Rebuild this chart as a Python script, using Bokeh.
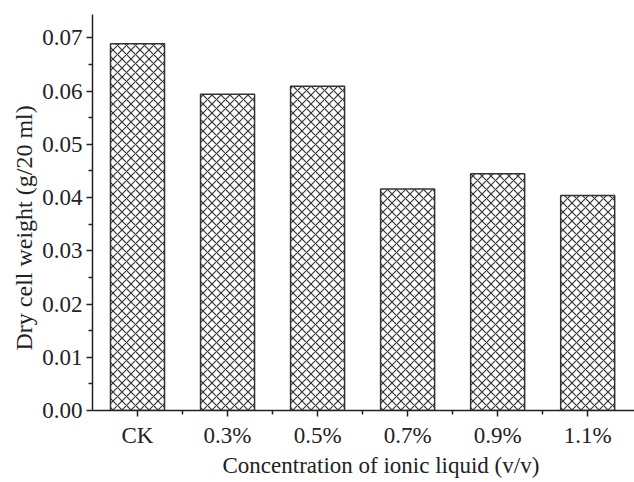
from bokeh.plotting import figure
from bokeh.models import ColumnDataSource, FixedTicker, Range1d, Title
from bokeh.embed import file_html
from bokeh.resources import INLINE

categories = ["CK", "0.3%", "0.5%", "0.7%", "0.9%", "1.1%"]
weights = [0.0689, 0.0594, 0.0609, 0.0416, 0.0445, 0.0404]
y_ticks = [0.00, 0.01, 0.02, 0.03, 0.04, 0.05, 0.06, 0.07]
x_title = "Concentration of ionic liquid (v/v)"
y_title = "Dry cell weight (g/20 ml)"

xpos = list(range(1, len(categories) + 1))
src = ColumnDataSource(dict(x=xpos, top=weights))

p = figure(width=634, height=482, output_backend="svg", toolbar_location=None,
           x_range=Range1d(0.5, 6.52), y_range=Range1d(0, 0.0744),
           min_border_left=92, min_border_right=0, min_border_top=14, min_border_bottom=72)
p.outline_line_color = None
p.grid.visible = False
p.background_fill_color = "white"
p.border_fill_color = "white"

p.vbar(x="x", top="top", width=0.6, bottom=0, source=src,
       fill_color="white", line_color="#333333", line_width=1.5,
       hatch_pattern="diagonal_cross", hatch_color="#333333", hatch_weight=1.2, hatch_scale=9)

font = "Liberation Serif"
xa = p.xaxis[0]
xa.ticker = FixedTicker(ticks=xpos, minor_ticks=[x + 0.5 for x in xpos[:-1]])
xa.major_label_overrides = {i: c for i, c in zip(xpos, categories)}

ya = p.yaxis[0]
ya.ticker = FixedTicker(ticks=y_ticks, minor_ticks=[0.005 + 0.01 * i for i in range(7)])
ya.formatter.use_scientific = False
ya.major_label_overrides = {t: f"{t:.2f}" for t in y_ticks}

for ax in (xa, ya):
    ax.axis_line_color = "#222222"
    ax.axis_line_width = 1.5
    ax.major_tick_line_color = "#222222"
    ax.minor_tick_line_color = "#222222"
    ax.major_tick_line_width = 1.5
    ax.minor_tick_line_width = 1.5
    ax.major_tick_out = 6
    ax.major_tick_in = 0
    ax.minor_tick_out = 4
    ax.minor_tick_in = 0
    ax.major_label_text_font = font
    ax.major_label_text_font_size = "23px"
    ax.major_label_text_color = "#222222"

xa.major_label_standoff = 6
ya.major_label_standoff = 4

tx = Title(text=x_title, align="left", offset=130, standoff=1,
           text_font=font, text_font_size="23px", text_font_style="normal",
           text_color="#222222")
ty = Title(text=y_title, align="left", offset=60, standoff=5,
           text_font=font, text_font_size="24px", text_font_style="normal",
           text_color="#222222")
p.add_layout(tx, "below")
p.add_layout(ty, "left")

open("out.html", "w").write(file_html(p, INLINE))
